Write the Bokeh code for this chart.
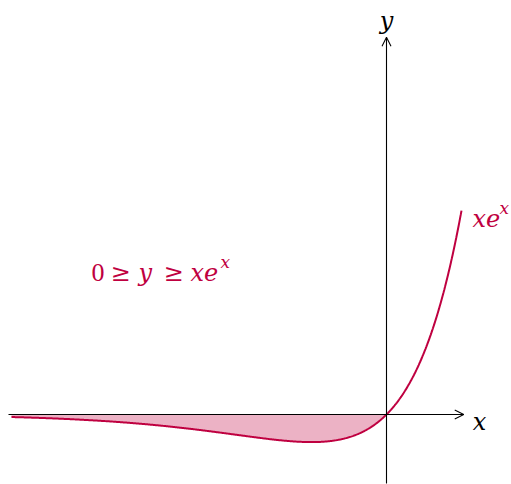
import numpy as np
from bokeh.plotting import figure
from bokeh.models import Range1d, Arrow, OpenHead
from bokeh.core.properties import value
from bokeh.embed import file_html
from bokeh.resources import INLINE

# Function y = x * e^x, sampled over the plotted domain
x_min, x_max = -5.0, 1.0
x_vals = np.linspace(x_min, x_max, 600)
y_vals = x_vals * np.exp(x_vals)

# Shaded region: 0 >= y >= x e^x for x <= 0
fill_mask = x_vals <= 0
fill_x = x_vals[fill_mask]
fill_y = y_vals[fill_mask]

# Axis extents
x_axis = (-5.04, 1.03)
y_axis = (-0.92, 5.03)

# Position of the region description
region_x, region_y = -3.0, 2.0

PURPLE = "#BF0040"
MATH = "DejaVu Serif"
DIGIT = "Liberation Serif"

p = figure(width=511, height=484, output_backend="svg", toolbar_location=None,
           x_range=Range1d(-386 / 75, 125 / 75), y_range=Range1d(-70 / 75, 414 / 75),
           x_axis_type=None, y_axis_type=None, min_border=0)
p.grid.visible = False
p.outline_line_color = None
p.background_fill_color = "white"
p.border_fill_color = "white"

# Shaded area between the curve and the x axis
p.varea(x=fill_x, y1=fill_y, y2=np.zeros_like(fill_y), fill_color=PURPLE, fill_alpha=0.3)

# Coordinate axes with open arrow heads
for xs, ys, xe, ye in [(x_axis[0], 0, x_axis[1], 0), (0, y_axis[0], 0, y_axis[1])]:
    p.add_layout(Arrow(end=OpenHead(size=9, line_width=1.1, line_color="black"),
                       x_start=xs, y_start=ys, x_end=xe, y_end=ye,
                       line_width=1.1, line_color="black"))

# The curve itself
p.line(x_vals, y_vals, line_color=PURPLE, line_width=2)


def label(x, y, txt, dx, dy, size, color="black", font=MATH, style="italic", align="left"):
    p.text(x=[x], y=[y], text=[txt], x_offset=dx, y_offset=dy,
           text_font=value(font), text_font_style=style, text_font_size=f"{size}px",
           text_color=color, text_align=align, text_baseline="alphabetic")


# Axis labels
label(x_axis[1], 0, "x", 9, 7, 24)
label(0, y_axis[1], "y", 0, -16, 24, align="center")

# Curve label at its right end
end_y = x_max * np.exp(x_max)
label(x_max, end_y, "xe", 11, 8, 24, color=PURPLE)
label(x_max, end_y, "x", 38, -3, 17, color=PURPLE)

# Region description: 0 >= y >= x e^x
label(region_x, region_y, "0", -70, 8, 26, color=PURPLE, font=DIGIT, style="normal")
label(region_x, region_y, "≥", -51, 8, 24, color=PURPLE, style="normal")
label(region_x, region_y, "y", -23, 8, 24, color=PURPLE)
label(region_x, region_y, "≥", 2, 8, 24, color=PURPLE, style="normal")
label(region_x, region_y, "xe", 29, 8, 24, color=PURPLE)
label(region_x, region_y, "x", 59, -3, 17, color=PURPLE)

open("out.html", "w").write(file_html(p, INLINE))
